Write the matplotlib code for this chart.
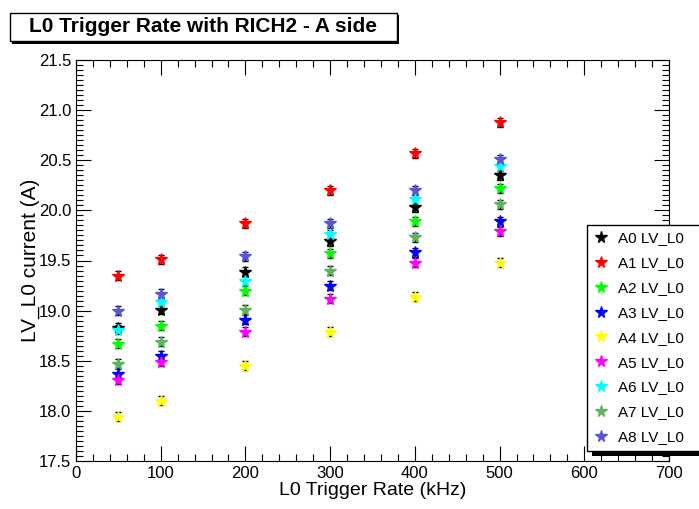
import matplotlib
matplotlib.use("Agg")
import matplotlib.pyplot as plt
from matplotlib.patches import Rectangle
from matplotlib.ticker import MultipleLocator
from matplotlib.lines import Line2D

plt.rcParams['font.family'] = ['Liberation Sans', 'DejaVu Sans']

rates = [50, 100, 200, 300, 400, 500]
series_names = ["A0 LV_L0", "A1 LV_L0", "A2 LV_L0", "A3 LV_L0", "A4 LV_L0",
                "A5 LV_L0", "A6 LV_L0", "A7 LV_L0", "A8 LV_L0"]
A0 = [18.83, 19.01, 19.39, 19.69, 20.03, 20.35]
A1 = [19.35, 19.51, 19.87, 20.20, 20.57, 20.88]
A2 = [18.67, 18.85, 19.20, 19.57, 19.89, 20.22]
A3 = [18.37, 18.55, 18.91, 19.25, 19.58, 19.89]
A4 = [17.94, 18.10, 18.45, 18.79, 19.14, 19.48]
A5 = [18.31, 18.49, 18.79, 19.12, 19.48, 19.79]
A6 = [18.81, 19.09, 19.30, 19.76, 20.11, 20.44]
A7 = [18.47, 18.69, 19.01, 19.40, 19.73, 20.06]
A8 = [19.00, 19.17, 19.54, 19.87, 20.20, 20.51]
errors = [0.045, 0.045, 0.045, 0.045, 0.045, 0.045]
series = [A0, A1, A2, A3, A4, A5, A6, A7, A8]
colors = ["#000000", "#ff0000", "#00ff00", "#0000ff", "#ffff00",
          "#ff00ff", "#00ffff", "#5fb35f", "#5954d8"]

W, H = 699, 509
fig = plt.figure(figsize=(W / 100, H / 100), dpi=100)

def fx(px):
    return px / W

def fy(py):
    return 1 - py / H

ax = fig.add_axes([fx(76), fy(461), fx(669) - fx(76), fy(60) - fy(461)])

for vals, col in zip(series, colors):
    ax.errorbar(rates, vals, yerr=errors, fmt='none', ecolor='black',
                elinewidth=1, capsize=2.5, capthick=1, zorder=2)
    ax.plot(rates, vals, linestyle='none', marker='*', markersize=8.5,
            color=col, markeredgecolor=col, zorder=3)

ax.set_xlim(0, 700)
ax.set_ylim(17.5, 21.5)
ax.xaxis.set_major_locator(MultipleLocator(100))
ax.xaxis.set_minor_locator(MultipleLocator(20))
ax.yaxis.set_major_locator(MultipleLocator(0.5))
ax.yaxis.set_minor_locator(MultipleLocator(0.05))
ax.yaxis.set_major_formatter(matplotlib.ticker.FormatStrFormatter('%.1f'))
ax.tick_params(which='both', direction='in', top=True, right=True,
               labelsize=12, width=0.8)
ax.tick_params(which='major', length=11)
ax.tick_params(which='minor', length=5)
for s in ax.spines.values():
    s.set_linewidth(0.8)
ax.set_xlabel("L0 Trigger Rate (kHz)", fontsize=14, labelpad=1)
ax.set_ylabel("LV_L0 current (A)", fontsize=15, labelpad=-1)

# Title box with shadow
fig.patches.append(Rectangle((fx(12), fy(44)), fx(399) - fx(12), fy(15) - fy(44),
                             transform=fig.transFigure, facecolor='black',
                             edgecolor='none', zorder=5))
fig.patches.append(Rectangle((fx(10), fy(41)), fx(397) - fx(10), fy(13) - fy(41),
                             transform=fig.transFigure, facecolor='white',
                             edgecolor='black', linewidth=1, zorder=6))
fig.text(fx(203), fy(27), "L0 Trigger Rate with RICH2 - A side",
         ha='center', va='center', fontsize=15, fontweight='bold', zorder=7)

# Legend box with shadow
leg_shadow = Rectangle((fx(592), fy(456)), fx(760) - fx(592), fy(230) - fy(456),
                       transform=fig.transFigure, facecolor='black',
                       edgecolor='none', zorder=8)
leg_box = Rectangle((fx(587), fy(451)), fx(760) - fx(587), fy(225) - fy(451),
                    transform=fig.transFigure, facecolor='white',
                    edgecolor='black', linewidth=1, zorder=9)
fig.patches.append(leg_shadow)
fig.patches.append(leg_box)

handles = [Line2D([], [], linestyle='none', marker='*', markersize=8.5,
                  color=c, markeredgecolor=c) for c in colors]
leg = fig.legend(handles, series_names, loc='upper left',
                 bbox_to_anchor=(fx(588), fy(226)), frameon=False,
                 fontsize=11, labelspacing=0.71, handlelength=1.0,
                 handletextpad=0.6, borderpad=0.35, borderaxespad=0)
leg.set_zorder(10)

fig.savefig("out.png", dpi=100)
